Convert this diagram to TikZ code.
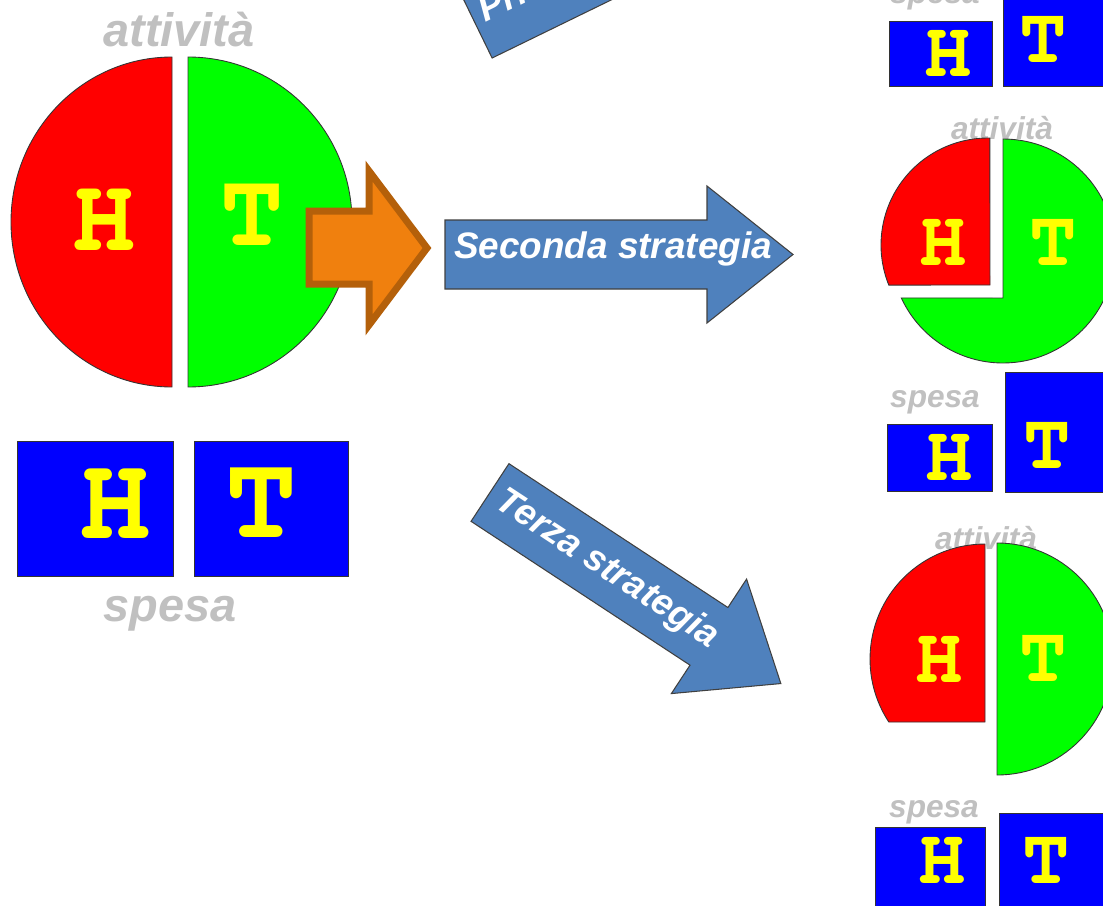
\documentclass[tikz,border=0pt]{standalone}
\usepackage[T1]{fontenc}
\usepackage{fontspec}
\setmainfont{Liberation Sans}
\newcommand\courbf{\fontencoding{T1}\fontfamily{pcr}\fontseries{b}\fontshape{n}\selectfont}
\definecolor{hred}{RGB}{255,0,0}
\definecolor{hgreen}{RGB}{0,255,0}
\definecolor{hblue}{RGB}{0,0,255}
\definecolor{hyel}{RGB}{255,255,0}
\definecolor{labgray}{RGB}{192,192,192}
\definecolor{arrblue}{RGB}{79,129,189}
\definecolor{orfill}{RGB}{240,128,14}
\definecolor{ordraw}{RGB}{180,96,10}
\tikzset{
  pieout/.style={draw=black!80, line width=0.5pt},
  boxout/.style={fill=hblue, draw=black!80, line width=0.5pt},
  biglab/.style={text=labgray, inner sep=0, font=\bfseries\itshape\fontsize{26.7}{30}\selectfont},
  smalllab/.style={text=labgray, inner sep=0, font=\bfseries\itshape\fontsize{18}{20}\selectfont},
  letbox/.style={text=hyel, inner sep=0, font=\courbf\fontsize{68}{70}\selectfont},
  letpie/.style={text=hyel, inner sep=0, font=\courbf\fontsize{60}{62}\selectfont},
  letsmall/.style={text=hyel, inner sep=0, font=\courbf\fontsize{45}{47}\selectfont},
  sarrow/.style={fill=arrblue, draw=black!75, line width=0.6pt, line join=miter},
  arrtext/.style={text=white, inner sep=0, font=\bfseries\itshape\fontsize{21}{23}\selectfont},
}
\begin{document}
\begin{tikzpicture}[x=0.02cm, y=-0.02cm]
\path[use as bounding box] (0,0) rectangle (1103,906);
\clip (0,0) rectangle (1103,906);

% ---------- left: big pie ----------
\filldraw[pieout, fill=hred] (172,57) arc[start angle=-90, end angle=-270, x radius=161, y radius=165] -- cycle;
\filldraw[pieout, fill=hgreen] (188,57) arc[start angle=-90, end angle=90, x radius=164, y radius=165] -- cycle;
\node[letpie] (bigH) at (104,221) {H};
\node[letpie] (bigT) at (252,216) {T};
\node[biglab] (bigatt) at (179,30) {attività};

% orange arrow
\draw[fill=orfill, draw=ordraw, line width=0.14cm, line join=miter]
  (309,211) -- (369,211) -- (369,171) -- (427,248) -- (369,325) -- (369,284) -- (309,284) -- cycle;

% ---------- left: boxes ----------
\filldraw[boxout] (17,441) rectangle (173,576);
\filldraw[boxout] (194,441) rectangle (348,576);
\node[letbox] (boxH) at (115,505) {H};
\node[letbox] (boxT) at (261,504) {T};
\node[biglab] (bigspesa) at (170,614) {spesa};

% ---------- strategy arrows ----------
\begin{scope}[shift={(477,27)}, rotate=26]
  \draw[sarrow] (0,-34.5) -- (262,-34.5) -- (262,-68.5) -- (348,0) -- (262,68.5) -- (262,34.5) -- (0,34.5) -- cycle;
  \node[arrtext, rotate=26] (s1) at (143,-10) {Prima strategia};
\end{scope}
\begin{scope}[shift={(445,254.5)}]
  \draw[sarrow] (0,-34.5) -- (262,-34.5) -- (262,-68.5) -- (348,0) -- (262,68.5) -- (262,34.5) -- (0,34.5) -- cycle;
  \node[arrtext] (s2) at (168,-5.5) {Seconda strategia};
\end{scope}
\begin{scope}[shift={(490,492.5)}, rotate=-33.3]
  \draw[sarrow] (0,-34.5) -- (262,-34.5) -- (262,-68.5) -- (348,0) -- (262,68.5) -- (262,34.5) -- (0,34.5) -- cycle;
  \node[arrtext, rotate=-33.3] (s3) at (140,0) {Terza strategia};
\end{scope}

% ---------- top right (first strategy result) ----------
\node[smalllab] (sp1) at (935,-2) {spesa};
\filldraw[boxout] (889,21) rectangle (992,86);
\filldraw[boxout] (1003,-20) rectangle (1120,86);
\node[letsmall] (h1) at (948,54) {H};
\node[letsmall] (t1) at (1043,40) {T};

% ---------- middle right (second strategy) ----------
\node[smalllab] (att2) at (1002,128) {attività};
\filldraw[pieout, fill=hgreen] (1003,139) arc[start angle=-90, end angle=155.2, radius=112] -- (1003,298) -- cycle;
\filldraw[pieout, fill=hred] (990,285) -- (888.8,285.1) arc[start angle=158, end angle=271, radius=107] -- cycle;
\node[letsmall] (h2) at (943,243) {H};
\node[letsmall] (t2) at (1053,243) {T};
\node[smalllab] (sp2) at (935,402) {spesa};
\filldraw[boxout] (887,424) rectangle (992,491);
\filldraw[boxout] (1005,372) rectangle (1120,492);
\node[letsmall] (h2b) at (949,458) {H};
\node[letsmall] (t2b) at (1047,446) {T};

% ---------- bottom right (third strategy) ----------
\node[smalllab] (att3) at (986,538) {attività};
\filldraw[pieout, fill=hred] (985,722) -- (888.8,722) arc[start angle=146.8, end angle=270, radius=115] -- cycle;
\filldraw[pieout, fill=hgreen] (997,543) arc[start angle=-90, end angle=90, radius=116] -- cycle;
\node[letsmall] (h3) at (939,660) {H};
\node[letsmall] (t3) at (1043,659) {T};
\node[smalllab] (sp3) at (934,812) {spesa};
\filldraw[boxout] (875,827) rectangle (985,930);
\filldraw[boxout] (999,813) rectangle (1120,930);
\node[letsmall] (h3b) at (942,861) {H};
\node[letsmall] (t3b) at (1046,861) {T};
\end{tikzpicture}
\end{document}
